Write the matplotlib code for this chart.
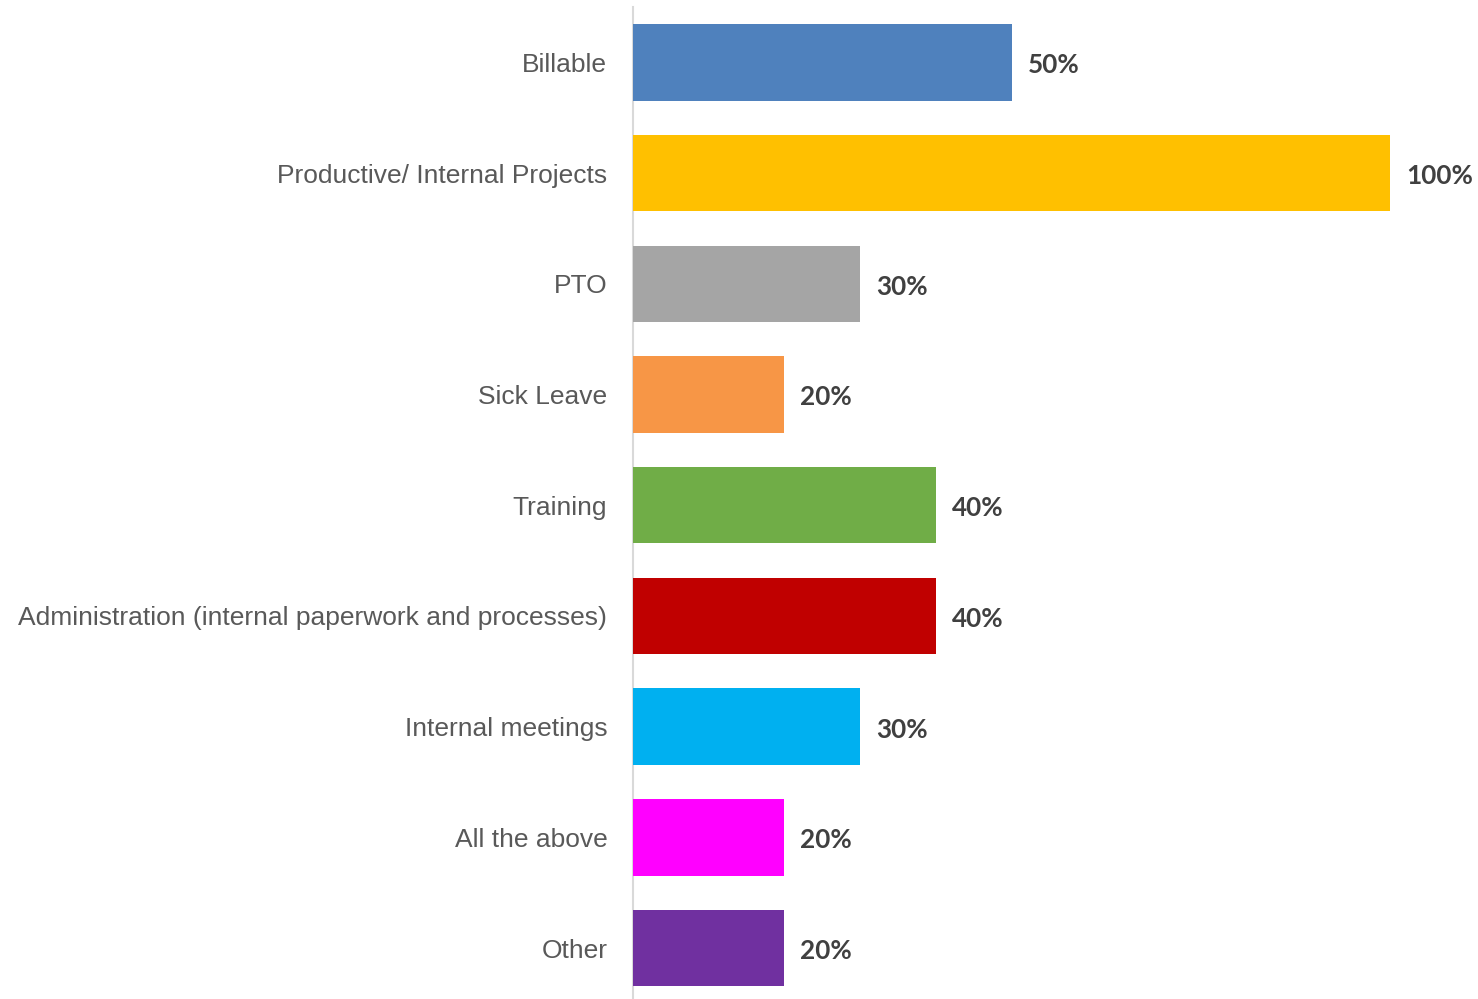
import matplotlib.pyplot as plt

categories = ['Billable', 'Productive/ Internal Projects', 'PTO', 'Sick Leave', 'Training',
              'Administration (internal paperwork and processes)', 'Internal meetings',
              'All the above', 'Other']
values = [0.50, 1.00, 0.30, 0.20, 0.40, 0.40, 0.30, 0.20, 0.20]
colors = ['#4F81BD', '#FFC000', '#A5A5A5', '#F79646', '#70AD47',
          '#C00000', '#00B0F0', '#FF00FF', '#7030A0']

fig = plt.figure(figsize=(14.78, 9.99), dpi=100)
ax = fig.add_axes([633 / 1478, 0, 757 / 1478, 1 - 7 / 999])

y = range(len(categories))
ax.barh(y, values, height=0.69, color=colors, zorder=2)
ax.set_xlim(0, 1)
ax.set_ylim(8.46, -0.5)

for i, v in enumerate(values):
    ax.annotate(f'{v:.0%}', (v, i), xytext=(16, -3), textcoords='offset pixels',
                ha='left', va='center', fontsize=18.8, fontweight='bold',
                family='Lato', color='#404040', annotation_clip=False)

ax.set_yticks(list(y))
ax.set_yticklabels(categories, family='Liberation Sans', fontsize=19, color='#595959')
ax.tick_params(axis='y', length=0, pad=18.5)
ax.set_xticks([])
for s in ['top', 'right', 'bottom']:
    ax.spines[s].set_visible(False)
ax.spines['left'].set_color('#D9D9D9')
ax.spines['left'].set_linewidth(1.5)
ax.spines['left'].set_zorder(1)

fig.savefig('out.png', dpi=100)
